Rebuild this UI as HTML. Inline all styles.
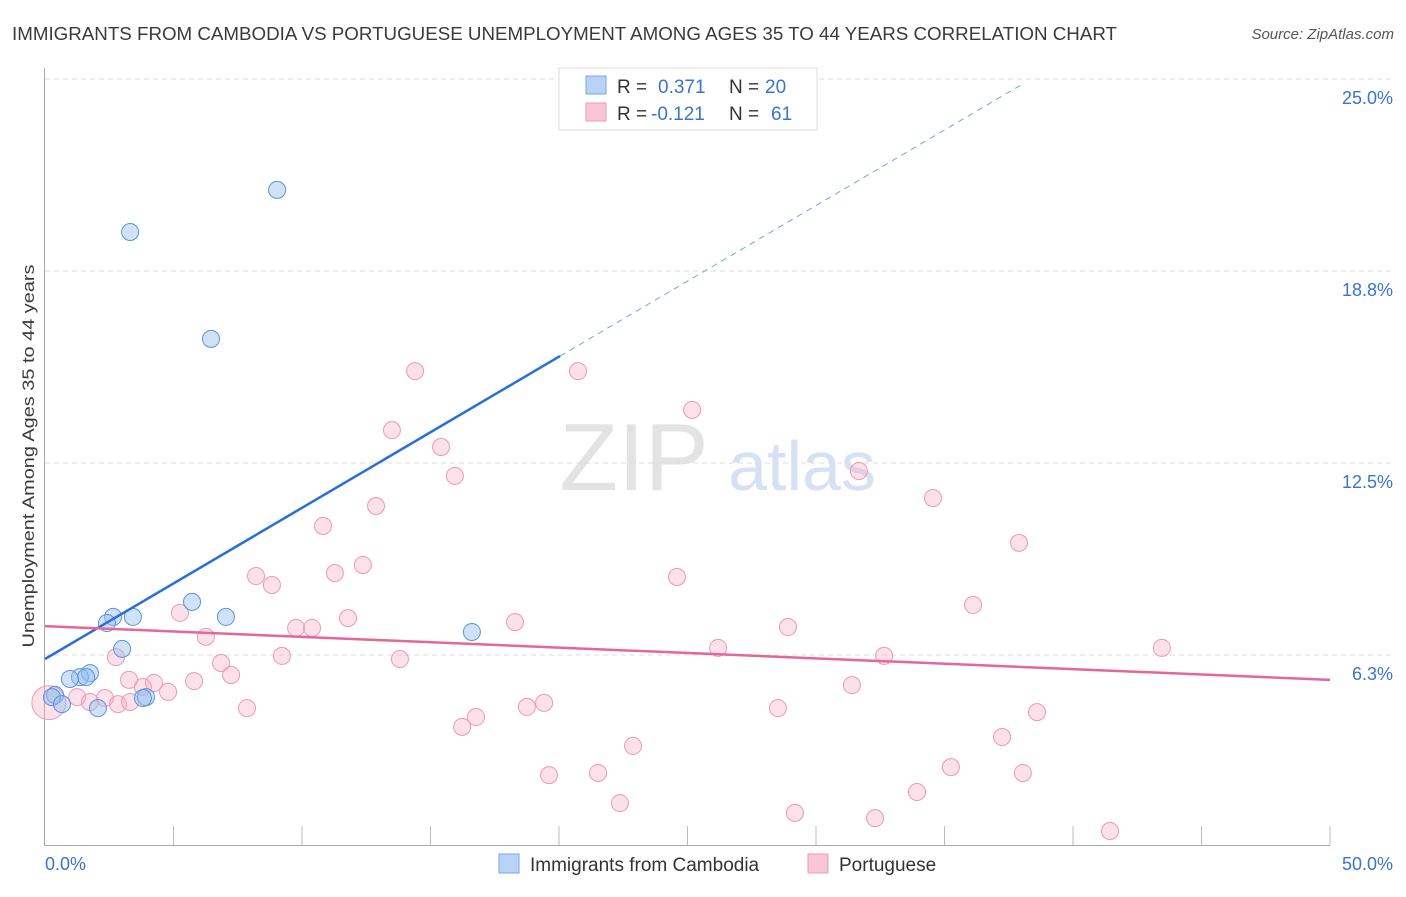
<!DOCTYPE html>
<html><head><meta charset="utf-8"><style>
body{margin:0;background:#fff;font-family:"Liberation Sans",sans-serif;}
svg text{font-family:"Liberation Sans",sans-serif;}
</style></head><body>
<svg id="chart" width="1406" height="892" xmlns="http://www.w3.org/2000/svg">
<text x="12" y="40" font-size="18" fill="#3a3a3a" textLength="1105" lengthAdjust="spacingAndGlyphs">IMMIGRANTS FROM CAMBODIA VS PORTUGUESE UNEMPLOYMENT AMONG AGES 35 TO 44 YEARS CORRELATION CHART</text>
<text x="1394" y="39" font-size="15" fill="#555" text-anchor="end" font-style="italic">Source: ZipAtlas.com</text>
<text transform="translate(34,456) rotate(-90)" font-size="17" fill="#3a3a3a" text-anchor="middle" textLength="383" lengthAdjust="spacingAndGlyphs">Unemployment Among Ages 35 to 44 years</text>
<g>
<text x="634" y="490" font-size="96" fill="#d8d8d8" font-family="Liberation Serif" text-anchor="middle" opacity="0.7">ZIP</text>
<text x="802" y="490" font-size="70" fill="#c5d6ee" text-anchor="middle" opacity="0.7">atlas</text>
</g>
<g id="grid"></g><g id="axes"></g><g id="marks"></g>
<g>
<rect x="559" y="68" width="258" height="62" fill="#fff" stroke="#ddd"/>
<rect x="586" y="76" width="20" height="18" fill="#b8d3f5" stroke="#7aa7e6"/>
<rect x="586" y="103" width="20" height="18" fill="#f9c6d6" stroke="#ee9ab5"/>
<text x="617" y="93" font-size="19" fill="#333">R =</text><text x="658" y="93" font-size="19" fill="#3b73cf">0.371</text>
<text x="729" y="93" font-size="19" fill="#333">N =</text><text x="765" y="93" font-size="19" fill="#3b73cf">20</text>
<text x="617" y="120" font-size="19" fill="#333">R =</text><text x="651" y="120" font-size="19" fill="#3b73cf">-0.121</text>
<text x="729" y="120" font-size="19" fill="#333">N =</text><text x="771" y="120" font-size="19" fill="#3b73cf">61</text>
</g>
<g>
<rect x="499" y="854" width="20" height="19" fill="#b8d3f5" stroke="#7aa7e6"/>
<text x="530" y="871" font-size="19" fill="#333">Immigrants from Cambodia</text>
<rect x="808" y="854" width="20" height="19" fill="#f9c6d6" stroke="#ee9ab5"/>
<text x="839" y="871" font-size="19" fill="#333">Portuguese</text>
</g>
</svg>
<script>
const blueX=[9.03,3.31,6.46,5.72,7.04,2.65,3.42,2.41,3.0,16.61,1.75,1.36,1.6,0.97,0.39,0.27,3.93,3.81,0.66,2.06];
const blueY=[21.39,20.02,16.54,7.98,7.49,7.49,7.49,7.29,6.45,7.0,5.66,5.53,5.53,5.47,4.95,4.88,4.88,4.85,4.65,4.52];
const pinkX=[14.4,20.74,13.5,25.18,15.41,15.95,31.67,12.88,34.55,10.82,37.9,12.37,11.28,8.21,8.83,24.59,36.11,5.25,11.79,18.29,9.77,10.39,28.91,6.26,26.19,43.46,2.76,9.22,13.81,32.65,6.85,7.24,3.27,4.24,5.8,31.4,3.81,4.79,1.25,2.33,1.75,2.84,3.31,7.86,19.42,18.75,28.52,38.6,16.77,16.23,37.24,22.88,35.25,19.61,21.52,38.05,33.93,22.37,29.18,32.3,41.44];
const pinkY=[15.49,15.49,13.57,14.23,13.02,12.08,12.24,11.1,11.36,10.45,9.9,9.18,8.92,8.82,8.53,8.79,7.88,7.62,7.45,7.32,7.13,7.13,7.16,6.84,6.48,6.48,6.18,6.22,6.12,6.22,5.99,5.6,5.44,5.34,5.4,5.27,5.21,5.05,4.88,4.85,4.72,4.65,4.72,4.52,4.69,4.56,4.52,4.39,4.23,3.91,3.58,3.29,2.6,2.34,2.41,2.41,1.79,1.43,1.11,0.94,0.52];
const yTicks=[6.25,12.5,18.75,25];
const yTickLabels=["6.3%","12.5%","18.8%","25.0%"];
const blueLine=[6.12,15.98];const blueLineEnd=[20.04,38.1];
const pinkLine=[7.19,5.44];
const X=v=>45+v/50*1285, Y=v=>847-v*30.72;
const NS="http://www.w3.org/2000/svg";
function mk(p,t,a){const e=document.createElementNS(NS,t);for(const k in a)e.setAttribute(k,a[k]);p.appendChild(e);return e;}
const grid=document.getElementById('grid'),axes=document.getElementById('axes'),marks=document.getElementById('marks');
yTicks.forEach((t,i)=>{
 const l=mk(grid,'line',{x1:45,x2:1394,y1:Y(t),y2:Y(t),stroke:'#ddd','stroke-dasharray':'5,4'});
 
 
 const tx=mk(axes,'text',{x:1393,y:Y(t)+25,'font-size':18,fill:'#3b73cf','text-anchor':'end'});tx.textContent=yTickLabels[i];
 
 
});
let a=mk(axes,'line',{x1:44.5,x2:44.5,y1:68,y2:845,stroke:'#aaa'});


a=mk(axes,'line',{x1:44,x2:1330,y1:845.5,y2:845.5,stroke:'#aaa'});


for(let v=5;v<=50;v+=5){const t=mk(axes,'line',{x1:X(v),x2:X(v),y1:826,y2:845,stroke:'#bbb'});
 
 }
let t0=mk(axes,'text',{x:45,y:870,'font-size':18,fill:'#3b73cf'});t0.textContent='0.0%';


t0=mk(axes,'text',{x:1393,y:870,'font-size':18,fill:'#3b73cf','text-anchor':'end'});t0.textContent='50.0%';


pinkX.forEach((x,i)=>{const c=mk(marks,'circle',{cx:X(x),cy:Y(pinkY[i]),r:8.5,fill:'rgba(246,170,195,0.35)',stroke:'#ec9ab4','stroke-width':1});
 
 });
let big=mk(marks,'circle',{cx:X(0.15),cy:Y(4.7),r:17,fill:'rgba(246,170,195,0.35)',stroke:'#ec9ab4'});


blueX.forEach((x,i)=>{const c=mk(marks,'circle',{cx:X(x),cy:Y(blueY[i]),r:8.5,fill:'rgba(150,190,240,0.45)',stroke:'#5d93dc','stroke-width':1});
 
 });
const slope=(blueLine[1]-blueLine[0])/blueLineEnd[0];
let ln=mk(marks,'line',{x1:X(0),y1:Y(blueLine[0]),x2:X(blueLineEnd[0]),y2:Y(blueLine[1]),stroke:'#2a6fd6','stroke-width':2.5});


ln=mk(marks,'line',{x1:X(blueLineEnd[0]),y1:Y(blueLine[1]),x2:X(blueLineEnd[1]),y2:Y(blueLine[0]+slope*blueLineEnd[1]),stroke:'#7aa2dd','stroke-width':1,'stroke-dasharray':'6,5'});


ln=mk(marks,'line',{x1:X(0),y1:Y(pinkLine[0]),x2:X(50),y2:Y(pinkLine[1]),stroke:'#e4679a','stroke-width':2.5});


</script>
</body></html>
